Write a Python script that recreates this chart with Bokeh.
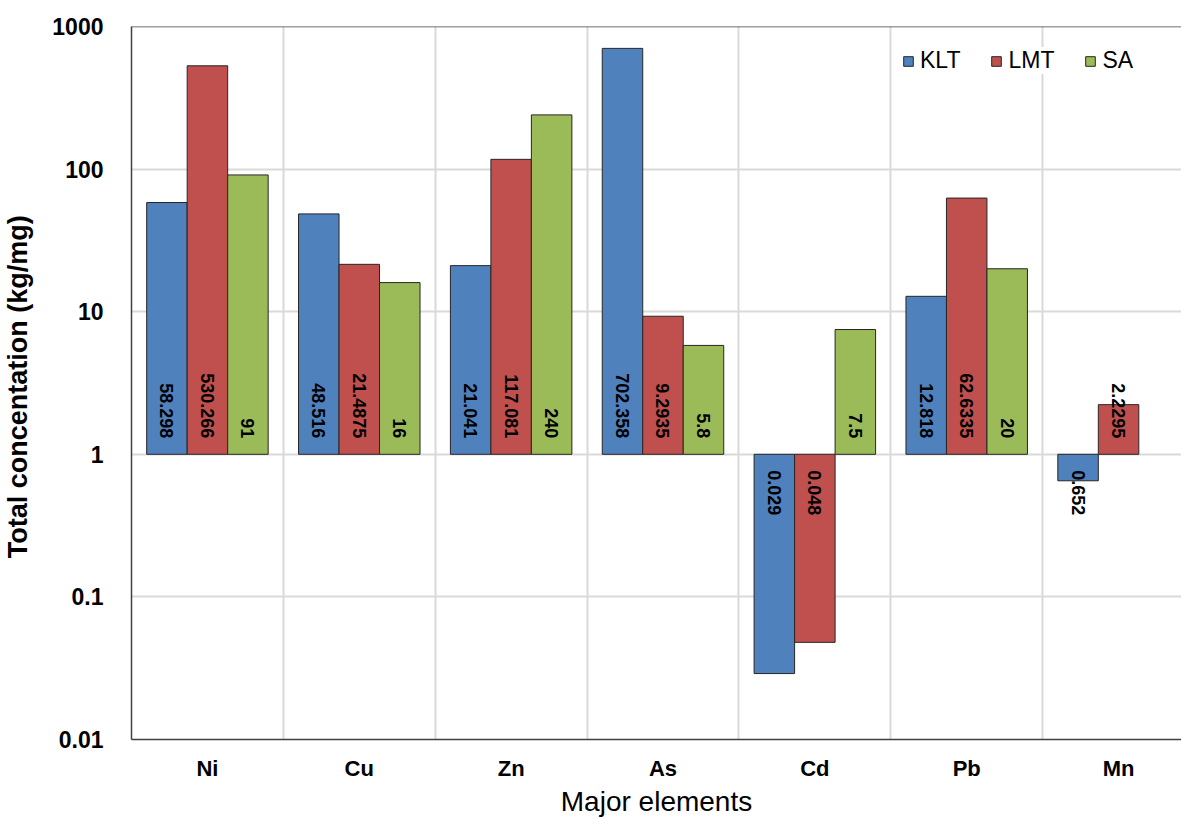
import math
from bokeh.plotting import figure
from bokeh.models import (ColumnDataSource, Range1d, FixedTicker, CustomJSTickFormatter,
                          Span, Legend, LegendItem)
from bokeh.embed import file_html
from bokeh.resources import INLINE
from bokeh.core.properties import value

# ---------------- data ----------------
elements = ["Ni", "Cu", "Zn", "As", "Cd", "Pb", "Mn"]
klt = [58.298, 48.516, 21.041, 702.358, 0.029, 12.818, 0.652]
lmt = [530.266, 21.4875, 117.081, 9.2935, 0.048, 62.6335, 2.2295]
sa = [91, 16, 240, 5.8, 7.5, 20, None]
series_names = ["KLT", "LMT", "SA"]
y_ticks = [0.01, 0.1, 1, 10, 100, 1000]
baseline = 1

# ---------------- style ----------------
colors = ["#4F81BD", "#C0504D", "#9BBB59"]
FONT = "Liberation Sans"
W, H = 1181, 819
ML, MT, MB = 130, 26, 78
CAT_PX = 152
frame_w = W - ML
group_w = 0.8
bar_w = group_w / 3
offsets = [-bar_w, 0.0, bar_w]
LABEL_GAP = 16

p = figure(width=W, height=H,
           x_range=Range1d(0, frame_w / CAT_PX),
           y_range=Range1d(y_ticks[0], y_ticks[-1]),
           y_axis_type="log",
           output_backend="svg", toolbar_location=None,
           min_border_left=ML, min_border_right=0,
           min_border_top=MT, min_border_bottom=MB)
p.outline_line_color = None
p.background_fill_color = "white"

legend_items = []
for s, (name, vals) in enumerate(zip(series_names, [klt, lmt, sa])):
    xs, tops, texts_pos, xs_pos, texts_neg, xs_neg = [], [], [], [], [], []
    for i, v in enumerate(vals):
        if v is None:
            continue
        x = i + 0.5 + offsets[s]
        xs.append(x)
        tops.append(v)
        if v >= baseline:
            xs_pos.append(x); texts_pos.append(f"{v:g}")
        else:
            xs_neg.append(x); texts_neg.append(f"{v:g}")
    src = ColumnDataSource(dict(x=xs, top=tops, bottom=[baseline] * len(xs)))
    r = p.vbar(x="x", top="top", bottom="bottom", width=bar_w, source=src,
               fill_color=colors[s], line_color="#262626", line_width=1)
    legend_items.append(LegendItem(label=name, renderers=[r]))
    if xs_pos:
        p.text(x=xs_pos, y=[baseline] * len(xs_pos), text=texts_pos,
               angle=-math.pi / 2, text_align="right", text_baseline="middle",
               y_offset=-LABEL_GAP,
               text_font=value(FONT), text_font_style="bold",
               text_font_size="18px", text_color="black")
    if xs_neg:
        p.text(x=xs_neg, y=[baseline] * len(xs_neg), text=texts_neg,
               angle=-math.pi / 2, text_align="left", text_baseline="middle",
               y_offset=LABEL_GAP,
               text_font=value(FONT), text_font_style="bold",
               text_font_size="18px", text_color="black")

# top border
p.add_layout(Span(location=y_ticks[-1], dimension="width",
                  line_color="#404040", line_width=1.5))

# grids
p.ygrid.ticker = FixedTicker(ticks=y_ticks)
p.ygrid.grid_line_color = "#D9D9D9"
p.ygrid.grid_line_width = 2
p.xgrid.ticker = FixedTicker(ticks=list(range(1, len(elements) + 1)))
p.xgrid.grid_line_color = "#D9D9D9"
p.xgrid.grid_line_width = 2

# axes
p.xaxis.ticker = FixedTicker(ticks=[i + 0.5 for i in range(len(elements))])
p.xaxis.major_label_overrides = {i + 0.5: e for i, e in enumerate(elements)}
p.yaxis.ticker = FixedTicker(ticks=y_ticks)
p.yaxis.formatter = CustomJSTickFormatter(code="return String(+tick.toPrecision(3));")
p.yaxis.minor_tick_line_color = None
p.xaxis.minor_tick_line_color = None
for ax in (p.xaxis, p.yaxis):
    ax.major_tick_line_color = None
    ax.axis_line_color = "#404040"
    ax.axis_line_width = 1.5
    ax.major_label_text_font = FONT
    ax.major_label_text_font_style = "bold"
    ax.major_label_text_font_size = "22px"
    ax.major_label_text_color = "black"
    ax.axis_label_text_font = FONT
    ax.axis_label_text_font_size = "28px"
    ax.axis_label_text_color = "black"
p.yaxis.major_label_text_font_size = "23px"
p.yaxis.major_label_standoff = 22
p.xaxis.major_label_standoff = 10
p.xaxis.axis_label = "Major elements"
p.xaxis.axis_label_text_font_style = "normal"
p.xaxis.axis_label_standoff = 2
p.yaxis.axis_label = "Total concentation  (kg/mg)"
p.yaxis.axis_label_text_font_style = "bold"
p.yaxis.axis_label_text_font_size = "27px"
p.yaxis.axis_label_standoff = 16

legend = Legend(items=legend_items, orientation="horizontal", location=(771, 665),
                background_fill_color="white", background_fill_alpha=1.0,
                border_line_color=None, glyph_width=12, glyph_height=12,
                label_standoff=6, spacing=30, padding=10, margin=0,
                label_text_font=FONT, label_text_font_size="23px",
                label_text_color="black")
p.add_layout(legend)

open("out.html", "w").write(file_html(p, INLINE))
